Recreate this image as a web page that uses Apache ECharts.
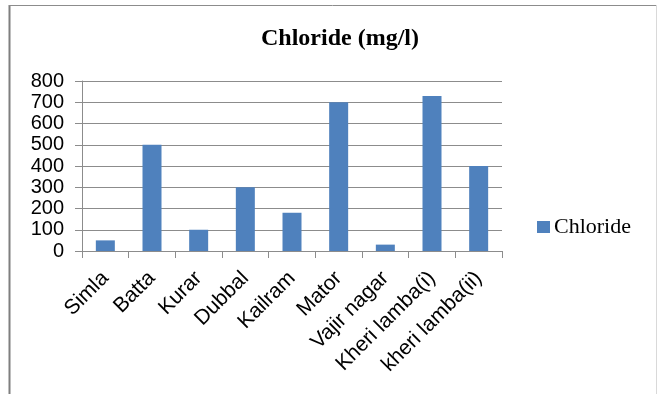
<!DOCTYPE html>
<html>
<head>
<meta charset="utf-8">
<script src="https://cdn.jsdelivr.net/npm/echarts@6/dist/echarts.min.js"></script>
<style>
  html, body { margin: 0; padding: 0; background: #fff; }
  #chart { width: 659px; height: 394px; }
</style>
</head>
<body>
<div id="chart"></div>
<script>
// Sampling sites and their chloride concentration (mg/l)
const sites = ['Simla', 'Batta', 'Kurar', 'Dubbal', 'Kailram', 'Mator', 'Vajir nagar', 'Kheri lamba(i)', 'kheri lamba(ii)'];
const chloride = [50, 500, 100, 300, 180, 700, 30, 730, 400];
const yTicks = { min: 0, max: 800, step: 100 };
const seriesName = 'Chloride';
const titleText = 'Chloride (mg/l)';

const chart = echarts.init(document.getElementById('chart'), null, { renderer: 'canvas' });

const axisGray = '#8c8c8c';
const sansFont = '"Liberation Sans", Arial, sans-serif';
const serifFont = '"Liberation Serif", "Times New Roman", serif';

chart.setOption({
  animation: false,
  backgroundColor: '#ffffff',
  title: {
    text: titleText,
    left: 335,
    top: 22,
    textAlign: 'center',
    textStyle: { fontFamily: serifFont, fontWeight: 'bold', fontSize: 24, color: '#000' }
  },
  legend: {
    data: [seriesName],
    orient: 'vertical',
    left: 537,
    top: 216,
    padding: 0,
    itemWidth: 13,
    itemHeight: 12,
    itemGap: 5,
    icon: 'rect',
    textStyle: { fontFamily: serifFont, fontSize: 22, color: '#000', padding: [0, 0, 0, -1] }
  },
  grid: { left: 82, right: 157, top: 81, bottom: 143, containLabel: false },
  xAxis: {
    type: 'category',
    data: sites,
    axisLine: { show: true, lineStyle: { color: axisGray, width: 1 } },
    axisTick: { show: true, length: 7, alignWithLabel: false, lineStyle: { color: axisGray } },
    axisLabel: {
      interval: 0,
      rotate: 45,
      margin: 24,
      fontFamily: sansFont,
      fontSize: 21,
      color: '#000'
    }
  },
  yAxis: {
    type: 'value',
    min: yTicks.min,
    max: yTicks.max,
    interval: yTicks.step,
    axisLine: { show: true, lineStyle: { color: axisGray, width: 1 } },
    axisTick: { show: true, length: 7, lineStyle: { color: axisGray } },
    splitLine: { show: true, lineStyle: { color: axisGray, width: 1 } },
    axisLabel: { margin: 18, fontFamily: sansFont, fontSize: 20, color: '#000' }
  },
  series: [{
    name: seriesName,
    type: 'bar',
    data: chloride,
    barWidth: 19,
    itemStyle: { color: '#4f81bd' }
  }],
  graphic: [
    // chart frame
    { type: 'line', shape: { x1: 9.5, y1: 5, x2: 9.5, y2: 394 }, style: { stroke: '#7f7f7f', lineWidth: 2 } },
    { type: 'line', shape: { x1: 9, y1: 5.5, x2: 656, y2: 5.5 }, style: { stroke: '#8c8c8c', lineWidth: 1 } },
    { type: 'line', shape: { x1: 656.5, y1: 5, x2: 656.5, y2: 394 }, style: { stroke: '#d9d9d9', lineWidth: 1 } }
  ]
});
</script>
</body>
</html>
